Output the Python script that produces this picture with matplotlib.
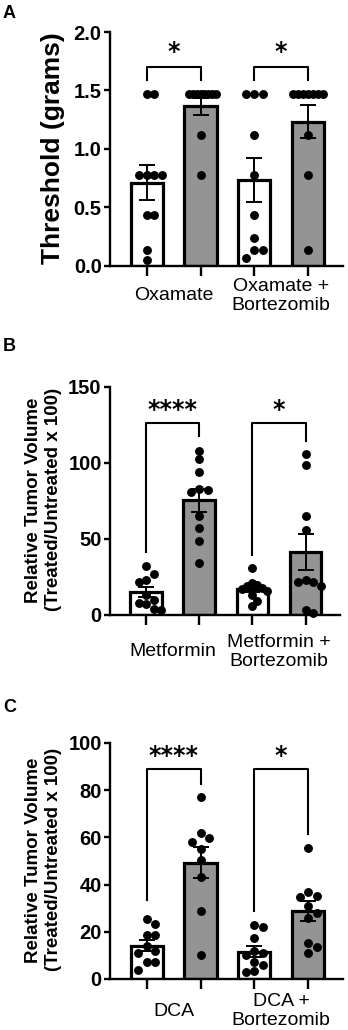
import numpy as np
import matplotlib.pyplot as plt

plt.rcParams['font.family'] = 'Liberation Sans'

## values (4 bars per panel: ctrl/treated, ctrl/treated)

# A - paw withdrawal threshold
a_cats = ["Oxamate", "Oxamate +\nBortezomib"]
a_ox_ctrl = [1.47, 1.47, 0.78, 0.78, 0.78, 0.78, 0.44, 0.44, 0.14, 0.05]
a_ox_trt = [1.47, 1.47, 1.47, 1.47, 1.47, 1.47, 1.47, 1.47, 1.12, 0.78]
a_oxb_ctrl = [1.47, 1.47, 1.47, 1.12, 0.78, 0.44, 0.24, 0.14, 0.14, 0.07]
a_oxb_trt = [1.47, 1.47, 1.47, 1.47, 1.47, 1.47, 1.47, 1.12, 0.78, 0.14]
a_ticks = [0.0, 0.5, 1.0, 1.5, 2.0]
a_ticklabels = ["0.0", "0.5", "1.0", "1.5", "2.0"]
a_stars = ["*", "*"]
a_brk_top = [1.70, 1.70]
a_brk_left = [1.59, 1.59]
a_brk_right = [1.59, 1.59]
a_star_y = [1.83, 1.83]

# B - metformin
b_cats = ["Metformin", "Metformin +\nBortezomib"]
b_met_ctrl = [32, 27, 23, 22, 13, 10, 8, 7, 4, 3]
b_met_trt = [108, 102.5, 94, 83, 82, 81, 65, 57, 49, 34]
b_metb_ctrl = [31, 21, 20, 19, 18, 17, 16, 13, 9, 6]
b_metb_trt = [106, 99, 65, 56, 23, 22, 22, 19, 3, 1]
b_ticks = [0, 50, 100, 150]
b_ticklabels = ["0", "50", "100", "150"]
b_stars = ["****", "*"]
b_brk_top = [126, 126]
b_brk_left = [41.7, 39.5]
b_brk_right = [118, 114.7]
b_star_y = [135, 135]

# C - DCA
c_cats = ["DCA", "DCA +\nBortezomib"]
c_dca_ctrl = [25.3, 23.3, 18.6, 18.6, 14, 12, 11, 7, 7, 4]
c_dca_trt = [77, 61.7, 59.6, 58.2, 55, 50.4, 43.1, 28.9, 10.2]
c_dcab_ctrl = [22.9, 22.2, 17.2, 12, 11, 10, 7.3, 6, 3.5, 3]
c_dcab_trt = [55.4, 37, 35, 34.6, 30.9, 28, 26, 15.4, 13.7, 10.9]
c_ticks = [0, 20, 40, 60, 80, 100]
c_ticklabels = ["0", "20", "40", "60", "80", "100"]
c_stars = ["****", "*"]
c_brk_top = [88.9, 88.9]
c_brk_left = [33.5, 28.9]
c_brk_right = [82.5, 61.4]
c_star_y = [94.5, 94.5]

rvlabel = "Relative Tumor Volume\n(Treated/Untreated x 100)"

panels = [
    dict(letter="A", rect=[110, 32, 343, 266], cats=a_cats,
         groups=[a_ox_ctrl, a_ox_trt, a_oxb_ctrl, a_oxb_trt],
         ticks=a_ticks, ticklabels=a_ticklabels, stars=a_stars,
         top=a_brk_top, left=a_brk_left, right=a_brk_right, star_y=a_star_y,
         ylabel="Threshold (grams)", ylsize=19, ylx=-0.245, caty=-0.128, lettery=18),
    dict(letter="B", rect=[110, 387, 340, 615], cats=b_cats,
         groups=[b_met_ctrl, b_met_trt, b_metb_ctrl, b_metb_trt],
         ticks=b_ticks, ticklabels=b_ticklabels, stars=b_stars,
         top=b_brk_top, left=b_brk_left, right=b_brk_right, star_y=b_star_y,
         ylabel=rvlabel, ylsize=13.5, ylx=-0.29, caty=-0.162, lettery=351),
    dict(letter="C", rect=[110, 743, 343, 979], cats=c_cats,
         groups=[c_dca_ctrl, c_dca_trt, c_dcab_ctrl, c_dcab_trt],
         ticks=c_ticks, ticklabels=c_ticklabels, stars=c_stars,
         top=c_brk_top, left=c_brk_left, right=c_brk_right, star_y=c_star_y,
         ylabel=rvlabel, ylsize=13.5, ylx=-0.285, caty=-0.136, lettery=712),
]

W, H = 348, 1030
fig = plt.figure(figsize=(W / 100, H / 100), dpi=100)

pos = np.arange(4)
fills = ["white", "#949494", "white", "#949494"]
dot = 8.5  # marker diameter in px


def swarm(vals, dx, dy, maxhalf):
    # simple beeswarm, offsets in x data units
    vals = np.asarray(vals, float)
    offs = np.zeros(len(vals))
    placed = []
    for i in np.argsort(-vals):
        for j in range(40):
            cand = ((j + 1) // 2) * (1 if j % 2 else -1) * dx
            ok = True
            for ox, oy in placed:
                if ((cand - ox) / dx) ** 2 + ((vals[i] - oy) / dy) ** 2 < 0.95:
                    ok = False
                    break
            if ok:
                break
        offs[i] = cand
        placed.append((cand, vals[i]))
    m = np.abs(offs).max()
    if m > maxhalf:
        offs *= maxhalf / m
    return offs


for p in panels:
    x0, y0, x1, y1 = p["rect"]
    ax = fig.add_axes([x0 / W, 1 - y1 / H, (x1 - x0) / W, (y1 - y0) / H])
    ax.set_xlim(-0.685, 3.65)
    ax.set_ylim(p["ticks"][0], p["ticks"][-1])
    pxx = (x1 - x0) / (3.65 + 0.685)
    pxy = (y1 - y0) / (p["ticks"][-1] - p["ticks"][0])

    means = [np.mean(g) for g in p["groups"]]
    sems = [np.std(g, ddof=1) / np.sqrt(len(g)) for g in p["groups"]]

    ax.bar(pos, means, width=0.6, color=fills, edgecolor="black", linewidth=2.3, zorder=2)
    for k, g in enumerate(p["groups"]):
        offs = swarm(g, dot / pxx, dot / pxy, 15 / pxx)
        ax.plot(pos[k] + offs, g, "o", color="black", ms=6.4, mew=0, zorder=3, clip_on=False)
    ax.errorbar(pos, means, yerr=sems, fmt="none", ecolor="black", elinewidth=1.4,
                capsize=5.5, capthick=1.4, zorder=4)

    # significance brackets
    for b in range(2):
        xa, xb = pos[2 * b], pos[2 * b + 1]
        ax.plot([xa, xa, xb, xb], [p["left"][b], p["top"][b], p["top"][b], p["right"][b]],
                color="black", lw=1.5, zorder=5, clip_on=False)
        ax.text((xa + xb) / 2, p["star_y"][b], p["stars"][b], ha="center", va="center",
                fontsize=17, fontweight="bold", family="DejaVu Sans")

    for s in ["top", "right"]:
        ax.spines[s].set_visible(False)
    for s in ["left", "bottom"]:
        ax.spines[s].set_linewidth(1.7)

    ax.set_yticks(p["ticks"])
    ax.set_yticklabels(p["ticklabels"], fontsize=14.5, fontweight="bold")
    ax.tick_params(axis="y", length=4, width=1.7, pad=2)
    ax.set_xticks(pos)
    ax.set_xticklabels([])
    ax.tick_params(axis="x", length=7, width=1.7)

    for c, cat in enumerate(p["cats"]):
        ax.text(0.5 + 2 * c, p["caty"], cat, transform=ax.get_xaxis_transform(),
                ha="center", va="center", fontsize=14, linespacing=1.15)

    ax.set_ylabel(p["ylabel"], fontsize=p["ylsize"], fontweight="bold", va="center",
                  linespacing=1.2)
    ax.yaxis.set_label_coords(p["ylx"], 0.505)

    fig.text(3 / W, 1 - p["lettery"] / H, p["letter"], fontsize=13, fontweight="bold",
             ha="left", va="baseline")

fig.savefig("out.png", dpi=100)
